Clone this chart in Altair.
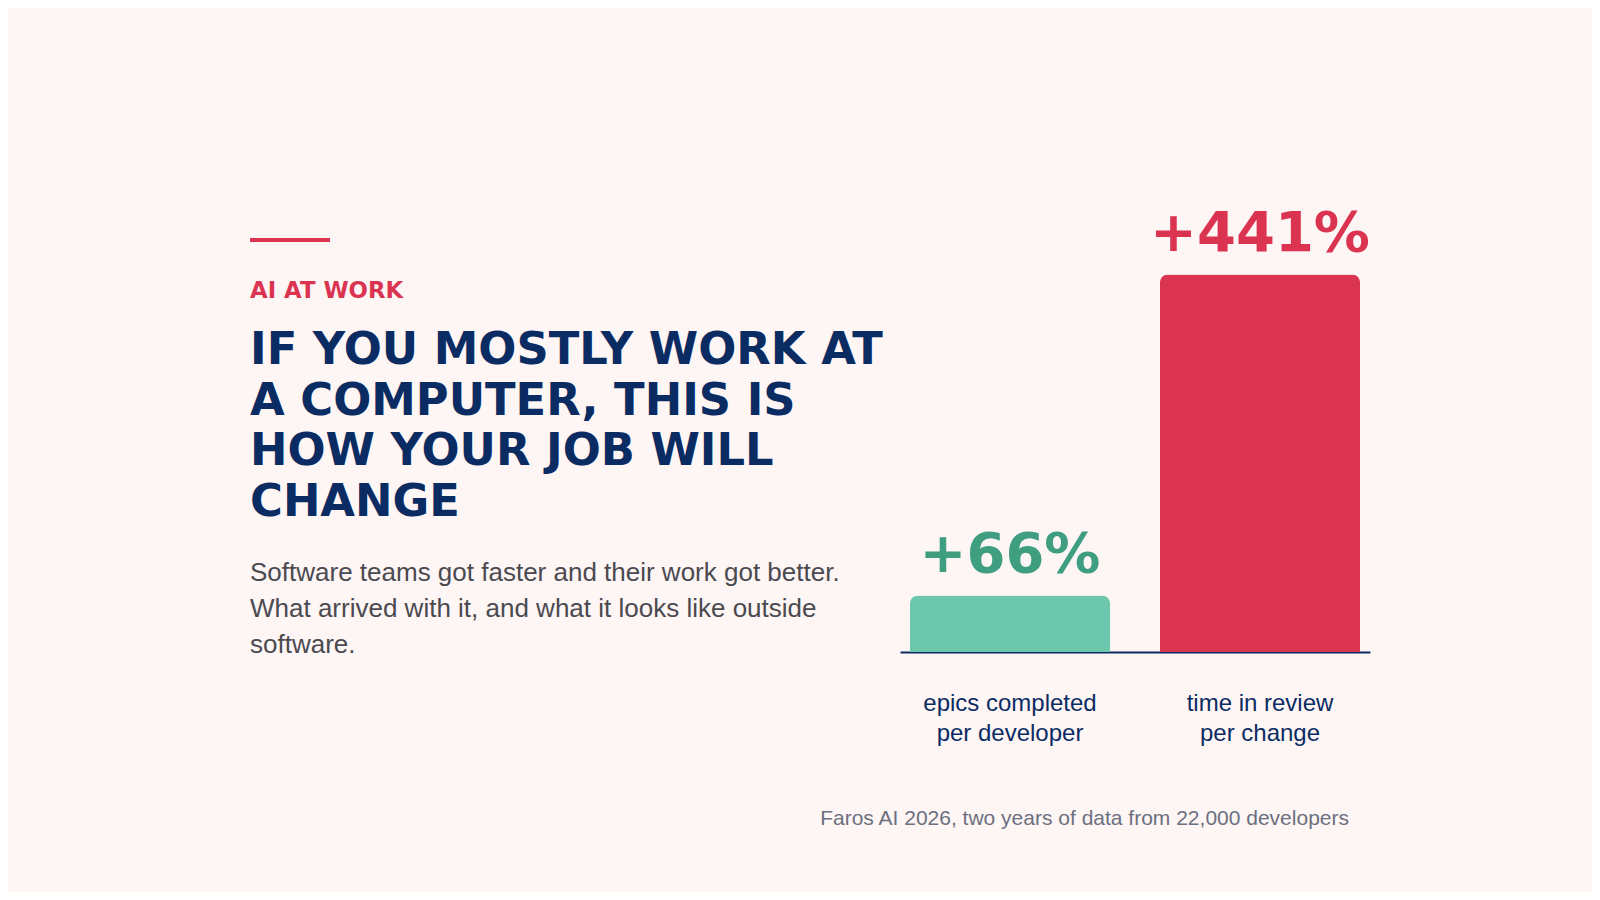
import altair as alt
import pandas as pd

# bar data
categories = ["epics completed\nper developer", "time in review\nper change"]
changes = [66, 441]
bar_colors = ["#6DC7AC", "#DB3451"]
label_colors = ["#3F9E80", "#DB3451"]

# text
kicker = "AI AT WORK"
headline = ["IF YOU MOSTLY WORK AT", "A COMPUTER, THIS IS", "HOW YOUR JOB WILL", "CHANGE"]
body = [
    "Software teams got faster and their work got better.",
    "What arrived with it, and what it looks like outside",
    "software.",
]
source = "Faros AI 2026, two years of data from 22,000 developers"

navy = "#0B2C63"
red = "#DB3451"
bg = "#FEF5F5"

df = pd.DataFrame({"metric": categories, "change": changes})
one = pd.DataFrame({"k": [0]})

x = alt.X(
    "metric:N",
    sort=categories,
    scale=alt.Scale(paddingInner=0.2, paddingOuter=0.04),
    axis=alt.Axis(
        title=None,
        labelExpr="split(datum.label, '\\n')",
        labelAngle=0,
        labelFont="Liberation Sans",
        labelFontSize=24,
        labelColor=navy,
        labelLineHeight=30,
        labelPadding=39,
        ticks=False,
        tickSize=0,
        domainColor=navy,
        domainWidth=2,
        grid=False,
    ),
)
y = alt.Y("change:Q", scale=alt.Scale(domain=[0, 500]), axis=None)

bars = alt.Chart(df).mark_bar(cornerRadiusTopLeft=8, cornerRadiusTopRight=8).encode(
    x=x,
    y=y,
    color=alt.Color("metric:N", scale=alt.Scale(domain=categories, range=bar_colors), legend=None),
)

values = alt.Chart(df).transform_calculate(
    label="'+' + datum.change + '%'"
).mark_text(
    font="DejaVu Sans", fontWeight="bold", fontSize=56, baseline="alphabetic", dy=-24
).encode(
    x=x,
    y=y,
    text="label:N",
    color=alt.Color("metric:N", scale=alt.Scale(domain=categories, range=label_colors), legend=None),
)

ann = alt.Chart(one)
accent = ann.mark_rule(color=red, strokeWidth=4).encode(
    x=alt.value(-650), x2=alt.value(-570), y=alt.value(16)
)
kick = ann.mark_text(
    text=kicker, font="DejaVu Sans", fontWeight="bold", fontSize=22.8, color=red,
    align="left", baseline="alphabetic",
).encode(x=alt.value(-650), y=alt.value(74))
head = ann.mark_text(
    text=headline, font="DejaVu Sans", fontWeight="bold", fontSize=44.8, color=navy,
    align="left", baseline="alphabetic", lineHeight=50.7,
).encode(x=alt.value(-650), y=alt.value(140))
sub = ann.mark_text(
    text=body, font="Liberation Sans", fontSize=26, color="#4A4A50",
    align="left", baseline="alphabetic", lineHeight=36,
).encode(x=alt.value(-650), y=alt.value(357))
foot = ann.mark_text(
    text=source, font="Liberation Sans", fontSize=21, color="#6B7080",
    align="right", baseline="alphabetic",
).encode(x=alt.value(449), y=alt.value(601))

chart = alt.layer(bars, values, accent, kick, head, sub, foot).resolve_scale(
    color="independent"
).properties(
    width=470,
    height=428,
    autosize=alt.AutoSizeParams(type="none"),
    padding={"left": 892, "top": 216, "right": 222, "bottom": 240},
    background=bg,
).configure_view(stroke=None)

chart.save("out.html", embed_options={"renderer": "svg", "actions": False})
